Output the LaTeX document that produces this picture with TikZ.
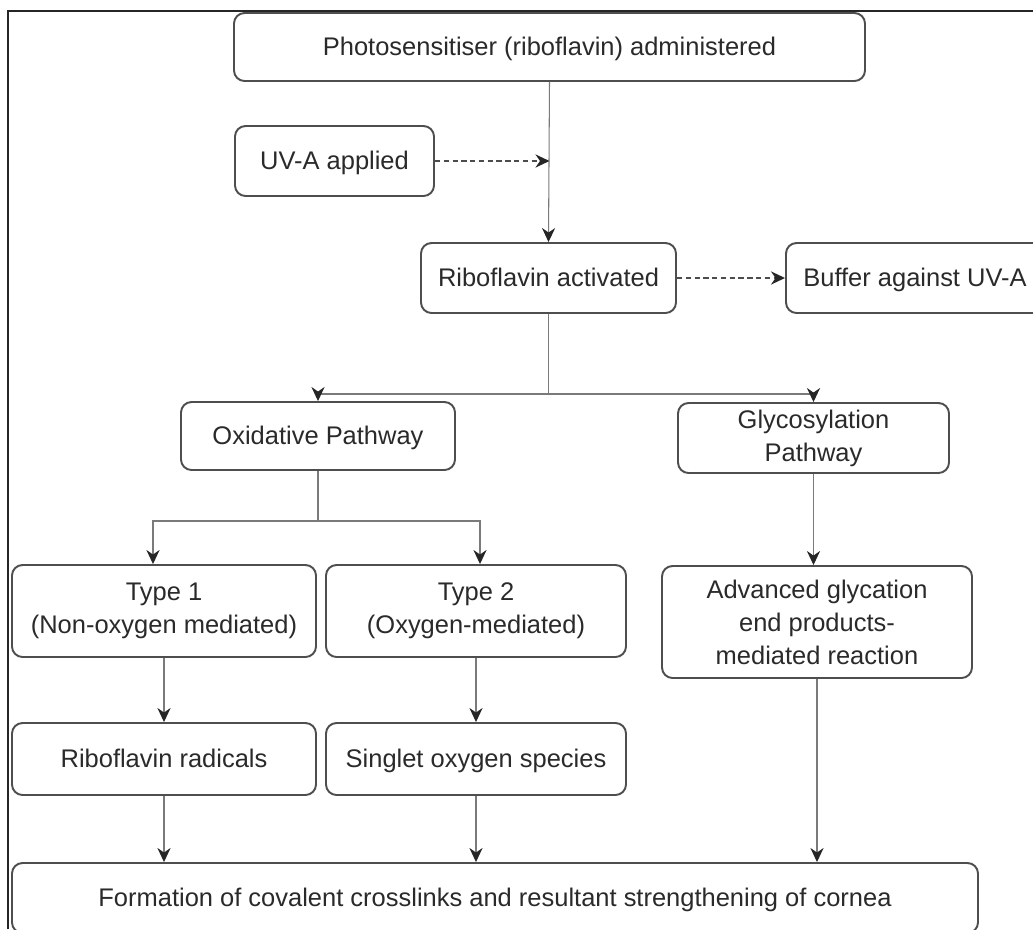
\documentclass[tikz,border=0pt]{standalone}
\usepackage{fontspec}
\setmainfont{Liberation Sans}
\usepackage{tikz}
\usetikzlibrary{arrows.meta, calc}

\definecolor{boxline}{HTML}{4E4E4E}
\definecolor{linkline}{HTML}{7A7A7A}
\definecolor{txt}{HTML}{2A2A2A}

\tikzset{
    box/.style={draw=boxline, line width=1.1pt, rounded corners=6pt, align=center,
                text=txt, font=\fontsize{14.5}{18.8}\selectfont, inner sep=2pt},
    oneline/.style={text height=2.3ex, text depth=0.4ex},
    link/.style={draw=linkline, line width=0.6pt,
                 -{Stealth[length=8pt, width=7.5pt, inset=2.6pt, color=black!85]}},
    dashlink/.style={link, draw=black!70, line width=0.9pt, dash pattern=on 3pt off 2pt}
}

\begin{document}
\begin{tikzpicture}
        \useasboundingbox (0,0) rectangle (20.66,-18.58);
    
        % cornice
        \draw[black!85, line width=0.9pt] (0.16,-18.58) -- (0.16,-0.22) -- (20.66,-0.22);
    
        % nodi con nomi
        \node[box, oneline, minimum width=12.62cm, minimum height=1.36cm] (photo)   at (10.99,-0.94)  {Photosensitiser (riboflavin) administered};
        \node[box, oneline, minimum width=3.98cm,  minimum height=1.40cm] (uva)     at (6.69,-3.22)   {UV-A applied};
        \node[box, oneline, minimum width=5.10cm,  minimum height=1.40cm] (riboact) at (10.97,-5.56)  {Riboflavin activated};
        \node[box, oneline, minimum width=5.16cm,  minimum height=1.40cm] (buffer)  at (18.30,-5.56)  {Buffer against UV-A};
        \node[box, oneline, minimum width=5.48cm,  minimum height=1.36cm] (oxid)    at (6.36,-8.72)   {Oxidative Pathway};
        \node[box, minimum width=5.42cm,  minimum height=1.40cm] (glyco)   at (16.27,-8.76)  {Glycosylation\\Pathway};
        \node[box, minimum width=6.08cm,  minimum height=1.84cm] (type1)   at (3.28,-12.22)  {Type 1\\(Non-oxygen mediated)};
        \node[box, minimum width=6.00cm,  minimum height=1.84cm] (type2)   at (9.52,-12.22)  {Type 2\\(Oxygen-mediated)};
        \node[box, minimum width=6.20cm,  minimum height=2.24cm] (age)     at (16.34,-12.44) {Advanced glycation\\end products-\\mediated reaction};
        \node[box, oneline, minimum width=6.08cm,  minimum height=1.44cm] (radic)   at (3.28,-15.18)  {Riboflavin radicals};
        \node[box, oneline, minimum width=6.00cm,  minimum height=1.44cm] (singlet) at (9.52,-15.18)  {Singlet oxygen species};
        \node[box, oneline, minimum width=19.32cm, minimum height=1.40cm] (cornea)  at (9.90,-17.96)  {Formation of covalent crosslinks and resultant strengthening of cornea};
    
        % asse principale
        \draw[link] (photo.south) -- (riboact.north);
        \draw[dashlink] (uva.east) -- (uva.east -| photo.south);
        \draw[dashlink] (riboact.east) -- (buffer.west);
    
        % rami
        \draw[link] (riboact.south) -- ++(0,-1.6) -| (oxid.north);
        \draw[link] (riboact.south) -- ++(0,-1.6) -| (glyco.north);
        \draw[link] (oxid.south) -- ++(0,-1.0) -| ([xshift=-0.22cm]type1.north);
        \draw[link] (oxid.south) -- ++(0,-1.0) -| ([xshift=0.08cm]type2.north);
        \draw[link] (glyco.south) -- (glyco.south |- age.north);
    
        % verso il basso
        \draw[link] (type1.south) -- (radic.north);
        \draw[link] (type2.south) -- (singlet.north);
        \draw[link] (radic.south) -- (radic.south |- cornea.north);
        \draw[link] (singlet.south) -- (singlet.south |- cornea.north);
        \draw[link] (age.south) -- (age.south |- cornea.north);
    
    \end{tikzpicture}
\end{document}
